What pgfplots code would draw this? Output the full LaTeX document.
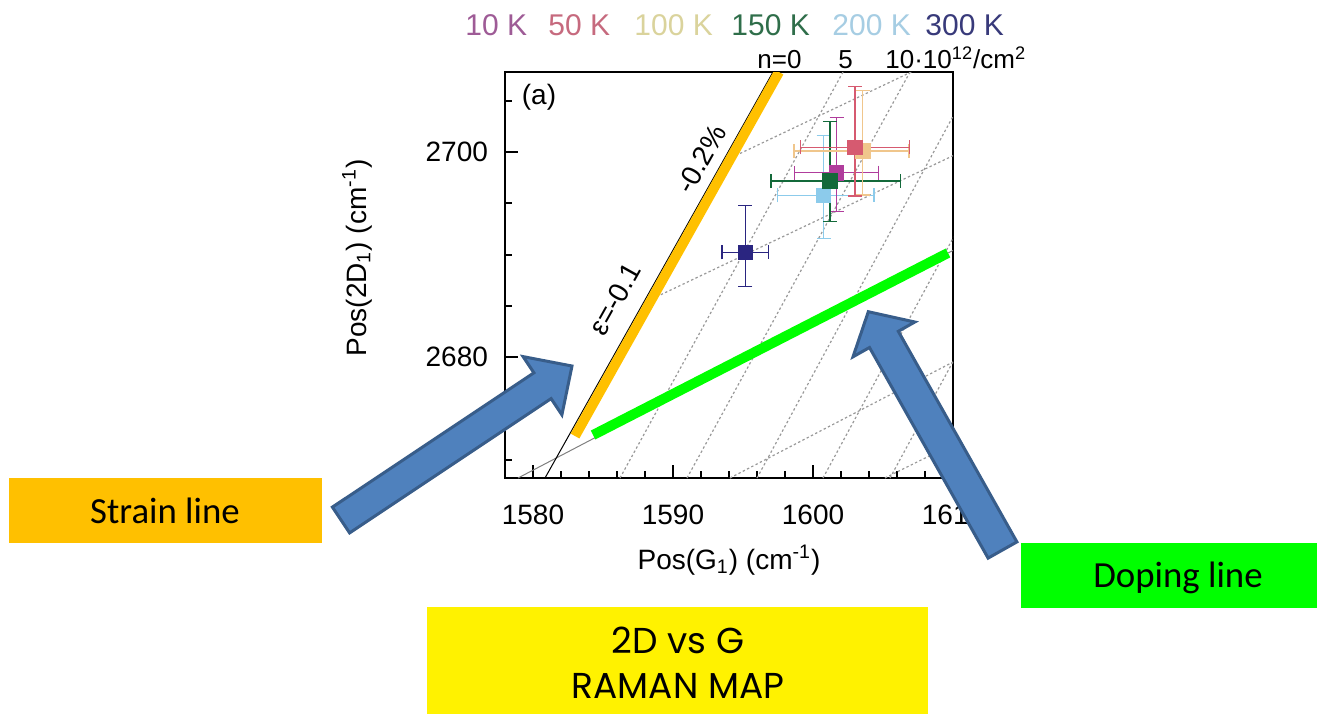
\documentclass[border=0pt]{standalone}
\usepackage{fontspec}
\setmainfont{Liberation Sans}
\newfontfamily\calibri{Carlito}
\newfontfamily\casual{Poppins}
\usepackage{pgfplots}
\pgfplotsset{compat=1.18}

\definecolor{cTen}{HTML}{B03C9C}
\definecolor{cFifty}{HTML}{D65A70}
\definecolor{cHundred}{HTML}{F0C68C}
\definecolor{cOneFifty}{HTML}{13693A}
\definecolor{cTwoHundred}{HTML}{8CCBEB}
\definecolor{cThreeHundred}{HTML}{2A2580}
\definecolor{tTen}{HTML}{9E5B96}
\definecolor{tFifty}{HTML}{C66A7E}
\definecolor{tHundred}{HTML}{DAD39C}
\definecolor{tOneFifty}{HTML}{2F6E4A}
\definecolor{tTwoHundred}{HTML}{A6CDE3}
\definecolor{tThreeHundred}{HTML}{383A7A}
\definecolor{strainOrange}{HTML}{FFC000}
\definecolor{dopingGreen}{HTML}{00FF00}
\definecolor{arrowFill}{HTML}{4F81BD}
\definecolor{arrowEdge}{HTML}{385D8A}

\begin{document}
\begin{tikzpicture}
% page frame in 1/2 pt units, measured from the top-left corner
\begin{scope}[x=0.5pt,y=-0.5pt]
\useasboundingbox (0,0) rectangle (1317,714);
\end{scope}

\begin{axis}[
  at={(252.5pt,-239pt)}, anchor=south west,
  width=224pt, height=203pt, scale only axis,
  xmin=1578, xmax=1610, ymin=2668.195, ymax=2707.805,
  axis line style={line width=1.2pt},
  xtick={1580,1590,1600,1610}, minor x tick num=4,
  ytick={2680,2700}, minor ytick={2670,2675,2685,2690,2695,2705},
  xtick pos=bottom, ytick pos=left, tick align=inside,
  major tick length=6.5pt, minor tick length=3.5pt,
  every tick/.style={black, line width=1pt},
  /pgf/number format/assume math mode=true,
  /pgf/number format/1000 sep={},
  ticklabel style={font=\fontsize{14}{14}\selectfont},
  xticklabel style={yshift=-10pt},
  yticklabel style={xshift=-5pt},
]
% iso-doping lines (n = 5, 10, 15, 20, 25 x 10^12/cm^2)
\pgfplotsset{isoline/.style={gray!80, line width=0.6pt, dash pattern=on 1.2pt off 1.2pt}}
\addplot[isoline] coordinates {(1586.214,2668.195) (1602.143,2707.805)};
\addplot[isoline] coordinates {(1591.000,2668.195) (1606.929,2707.805)};
\addplot[isoline] coordinates {(1596.000,2668.195) (1611.714,2707.805)};
\addplot[isoline] coordinates {(1600.714,2668.195) (1616.430,2707.805)};
\addplot[isoline] coordinates {(1605.500,2668.195) (1621.200,2707.805)};
% iso-strain lines (eps = -0.2, -0.1, +0.1, +0.2 %)
\addplot[isoline] coordinates {(1593.55,2699.05) (1607.02,2707.805)};
\addplot[isoline] coordinates {(1587.89,2685.27) (1610,2699.64)};
\addplot[isoline] coordinates {(1594.07,2668.195) (1610,2679.51)};
\addplot[isoline] coordinates {(1605.14,2668.195) (1610,2671.50)};
% eps = 0 doping line and n = 0 strain line
\addplot[gray, line width=0.5pt] coordinates {(1578.929,2668.195) (1610,2690.40)};
\addplot[black, line width=0.5pt] coordinates {(1580.857,2668.195) (1597.143,2707.805)};
% highlighted strain and doping directions
\addplot[strainOrange, line width=5pt] coordinates {(1583.00,2672.29) (1597.57,2707.80)};
\addplot[dopingGreen, line width=5pt] coordinates {(1584.29,2672.39) (1609.64,2690.15)};
% measured positions with error bars
\pgfplotsset{pt/.style={only marks, mark=square*, mark size=3.6pt,
  error bars/.cd, x dir=both, x explicit, y dir=both, y explicit,
  error bar style={line width=0.7pt},
  error mark options={rotate=90, line width=0.7pt, mark size=3.5pt}}}
\addplot[cThreeHundred, pt] coordinates {(1595.16,2690.21) += (1.67,4.57) -= (1.67,3.35)};
\addplot[cTwoHundred, pt] coordinates {(1600.76,2695.78) += (3.6,5.82) -= (3.3,4.19)};
\addplot[cTen, pt] coordinates {(1601.69,2697.98) += (3.0,5.37) -= (3.0,3.80)};
\addplot[cOneFifty, pt] coordinates {(1601.21,2697.17) += (5.05,5.79) -= (4.2,3.97)};
\addplot[cHundred, pt] coordinates {(1603.55,2700.10) += (3.3,5.90) -= (4.9,4.30)};
\addplot[cFifty, pt] coordinates {(1603.00,2700.46) += (3.88,5.92) -= (3.88,4.75)};
\end{axis}

\begin{scope}[x=0.5pt,y=-0.5pt]
% axis titles
\node[rotate=90, font=\fontsize{14}{14}\selectfont] at (357,258) {Pos(2D\textsubscript{1}) (cm\textsuperscript{-1})};
\node[font=\fontsize{14}{14}\selectfont] at (729,560) {Pos(G\textsubscript{1}) (cm\textsuperscript{-1})};
\node[font=\fontsize{14}{14}\selectfont] at (539,97) {(a)};

% temperature key
\begin{scope}[every node/.style={anchor=base west, inner sep=0pt, font=\fontsize{15}{15}\selectfont}]
\node[text=tTen] at (465,35) {10 K};
\node[text=tFifty] at (548,35) {50 K};
\node[text=tHundred] at (634,35) {100 K};
\node[text=tOneFifty] at (731,35) {150 K};
\node[text=tTwoHundred] at (832,35) {200 K};
\node[text=tThreeHundred] at (925,35) {300 K};
\end{scope}

% carrier density scale
\begin{scope}[every node/.style={anchor=base west, inner sep=0pt, font=\fontsize{13}{13}\selectfont}]
\node at (757,68) {n=0};
\node at (838,68) {5};
\node at (885,68) {10·10\textsuperscript{12}/cm\textsuperscript{2}};
\end{scope}

% strain values along the n = 0 line
\node[rotate=60.7, font=\fontsize{14}{14}\selectfont, inner sep=0pt] at (615,299) {ε=-0.1};
\node[rotate=60.7, font=\fontsize{14}{14}\selectfont, inner sep=0pt] at (701,159) {-0.2\%};

% call-out arrows
\filldraw[fill=arrowFill, draw=arrowEdge, line width=1.5pt, line join=miter]
  (332.4,507.1) -- (533.9,372.8) -- (523.1,356.6) -- (572,366) -- (561.9,414.8) -- (551.1,398.6) -- (349.6,532.9) -- cycle;
\filldraw[fill=arrowFill, draw=arrowEdge, line width=1.5pt, line join=miter]
  (1016.9,541.9) -- (898.3,331.3) -- (914.8,322.0) -- (868.3,311.7) -- (853.0,356.8) -- (869.5,347.5) -- (988.1,558.1) -- cycle;

% call-out boxes
\fill[strainOrange] (9,478) rectangle (322,543);
\node[anchor=base, font=\calibri\fontsize{18.4}{18.4}\selectfont] at (165,523) {Strain line};
\fill[dopingGreen] (1021,543) rectangle (1317,608);
\node[anchor=base, font=\calibri\fontsize{18.4}{18.4}\selectfont] at (1178,587) {Doping line};
\fill[yellow] (427,607) rectangle (928,714);
\node[anchor=base, font=\casual\fontsize{18}{18}\selectfont] at (678,653) {2D vs G};
\node[anchor=base, font=\casual\fontsize{18}{18}\selectfont] at (678,698) {RAMAN MAP};
\end{scope}
\end{tikzpicture}
\end{document}
